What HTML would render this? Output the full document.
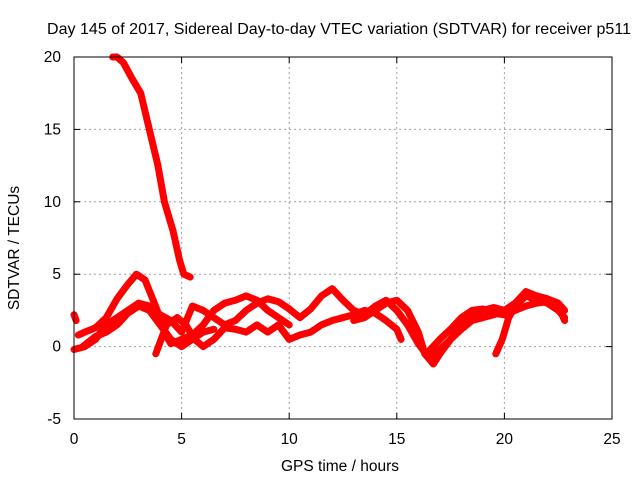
<!DOCTYPE html>
<html><head><meta charset="utf-8"><style>
body{margin:0;background:#fff}
svg text{font-family:"Liberation Sans",sans-serif;font-size:15.5px;fill:#000}
</style></head><body>
<svg width="640" height="480" id="c">
<text x="339" y="34" text-anchor="middle" style="font-size:16px" textLength="584">Day 145 of 2017, Sidereal Day-to-day VTEC variation (SDTVAR) for receiver p511</text>
<text x="340" y="471" text-anchor="middle">GPS time / hours</text>
<text transform="translate(19,248) rotate(-90)" text-anchor="middle">SDTVAR / TECUs</text>
<g id="grid"></g><g id="marks"></g>
<rect x="74" y="57" width="538" height="362" fill="none" stroke="#000" stroke-width="1"/>
</svg>
<script>
const xTicks=[0,5,10,15,20,25];
const yTicks=[-5,0,5,10,15,20];
const trackA=[[1.8,20],[2.0,20],[2.3,19.6],[2.7,18.5],[3.1,17.5],[3.5,15],[3.9,12.5],[4.2,10],[4.6,8],[4.9,6],[5.1,5],[5.4,4.8]];
const trackB=[[0,2.2],[0.1,1.8]];
const trackC=[[0.2,0.8],[0.5,1.0],[1,1.3],[1.5,2],[2,3.3],[2.5,4.3],[2.9,5],[3.3,4.6],[3.6,3.5],[4,2],[4.3,0.7],[4.5,0.2],[5,0.5],[5.5,0.8],[6,1.5],[6.5,2.5],[7,3],[7.5,3.2],[8,3.5],[8.5,3.2],[9,2.5],[9.5,2],[10,1.5]];
const trackD=[[0.4,0],[1,0.7],[1.5,1],[2,1.5],[2.5,2.3],[3,2.8],[3.5,2.5],[4,1.5],[4.5,0.5],[5,0],[5.5,0.5],[6,1],[6.5,1.2]];
const trackE=[[0,-0.2],[0.5,0],[1,0.5],[1.5,1.5],[2,2],[2.5,2.5],[3,3],[3.5,2.8],[4,2.2],[4.5,1.8],[5,1],[5.5,2.8],[6,2.5],[6.5,2.0],[7,1.5],[7.5,1.8],[8,2.5],[8.5,3],[9,3.3],[9.5,3.1],[10,2.6],[10.5,2],[11,2.6],[11.5,3.5],[12,4],[12.5,3.2],[13,2.5],[13.5,2.2],[14,2.8],[14.5,3.2],[15,2.5],[15.5,1.5],[16,0.2],[16.5,-0.8],[17,-0.2],[17.5,0.5],[18,1.2],[18.5,1.8],[19,2],[19.5,2.2],[20,2.5],[20.5,2.8],[21,3.5],[21.5,3.2],[22,3],[22.5,2.5],[22.8,2]];
const trackF=[[3.8,-0.5],[4.3,1.5],[4.8,2],[5.2,1.5],[5.6,0.5],[6,0],[6.5,0.5],[7,1.3],[7.5,1.2],[8,1],[8.5,1.5],[9,1],[9.5,1.5],[10,0.5],[10.5,0.8],[11,1],[11.5,1.5],[12,1.8],[12.5,2],[13,2.2],[13.5,2.5],[14,2.3],[14.5,1.8],[15,1.2],[15.2,0.5]];
const trackG=[[13,1.8],[13.5,2],[14,2.5],[14.5,3],[15,3.2],[15.5,2.5],[16,1],[16.3,-0.5],[16.7,-1.2],[17,-0.5],[17.5,0.5],[18,1.5],[18.5,2.2],[19,2.5],[19.5,2.7],[20,2.5],[20.5,3],[21,3.8],[21.5,3.5],[22,3.3],[22.5,3],[22.8,2.5]];
const trackH=[[16.5,-0.3],[17,0.5],[17.5,1.2],[18,2],[18.5,2.5],[19,2.6],[19.5,2.3],[20,2.2],[20.5,2.5],[21,2.8],[21.5,3],[22,3.1],[22.5,2.8],[22.8,1.8]];
const trackI=[[19.6,-0.5],[19.9,0.5],[20.2,2],[20.5,2.8]];
const tracks=[trackA,trackB,trackC,trackD,trackE,trackF,trackG,trackH,trackI];
const NS='http://www.w3.org/2000/svg';
const X=v=>74+v*538/25, Y=v=>419-(v+5)*362/25;
const grid=document.getElementById('grid'), marks=document.getElementById('marks'), svg=document.getElementById('c');
function ln(x1,y1,x2,y2,st,dash){const l=document.createElementNS(NS,'line');l.setAttribute('x1',x1);l.setAttribute('x2',x2);l.setAttribute('y1',y1);l.setAttribute('y2',y2);l.setAttribute('stroke',st);if(dash)l.setAttribute('stroke-dasharray',dash);return l;}
xTicks.forEach(t=>{
 if(t>0&&t<25){const l=ln(X(t),57,X(t),419,'#a0a0a0','2,3');
 
 
 grid.appendChild(l);}
 const tk=ln(X(t),419,X(t),413,'#000');
 
 
 grid.appendChild(tk);
 const tk2=ln(X(t),57,X(t),63,'#000');
 
 
 grid.appendChild(tk2);
 const tx=document.createElementNS(NS,'text');tx.setAttribute('x',X(t));tx.setAttribute('y',444);tx.setAttribute('text-anchor','middle');tx.textContent=t;
 
 
 svg.appendChild(tx);
});
yTicks.forEach(t=>{
 if(t>-5&&t<20){const l=ln(74,Y(t),612,Y(t),'#a0a0a0','2,3');
 
 
 grid.appendChild(l);}
 const tk=ln(74,Y(t),80,Y(t),'#000');
 
 
 grid.appendChild(tk);
 const tk2=ln(606,Y(t),612,Y(t),'#000');
 
 
 grid.appendChild(tk2);
 const tx=document.createElementNS(NS,'text');tx.setAttribute('x',61);tx.setAttribute('y',Y(t)+5);tx.setAttribute('text-anchor','end');tx.textContent=t;
 
 
 svg.appendChild(tx);
});
tracks.forEach(tr=>{
 const p=document.createElementNS(NS,'polyline');
 p.setAttribute('points',tr.map(d=>X(d[0])+','+Y(d[1])).join(' '));
 p.setAttribute('fill','none');p.setAttribute('stroke','#ff0000');p.setAttribute('stroke-width','7');p.setAttribute('stroke-linejoin','round');p.setAttribute('stroke-linecap','round');
 
 
 marks.appendChild(p);
});
</script>
</body></html>
